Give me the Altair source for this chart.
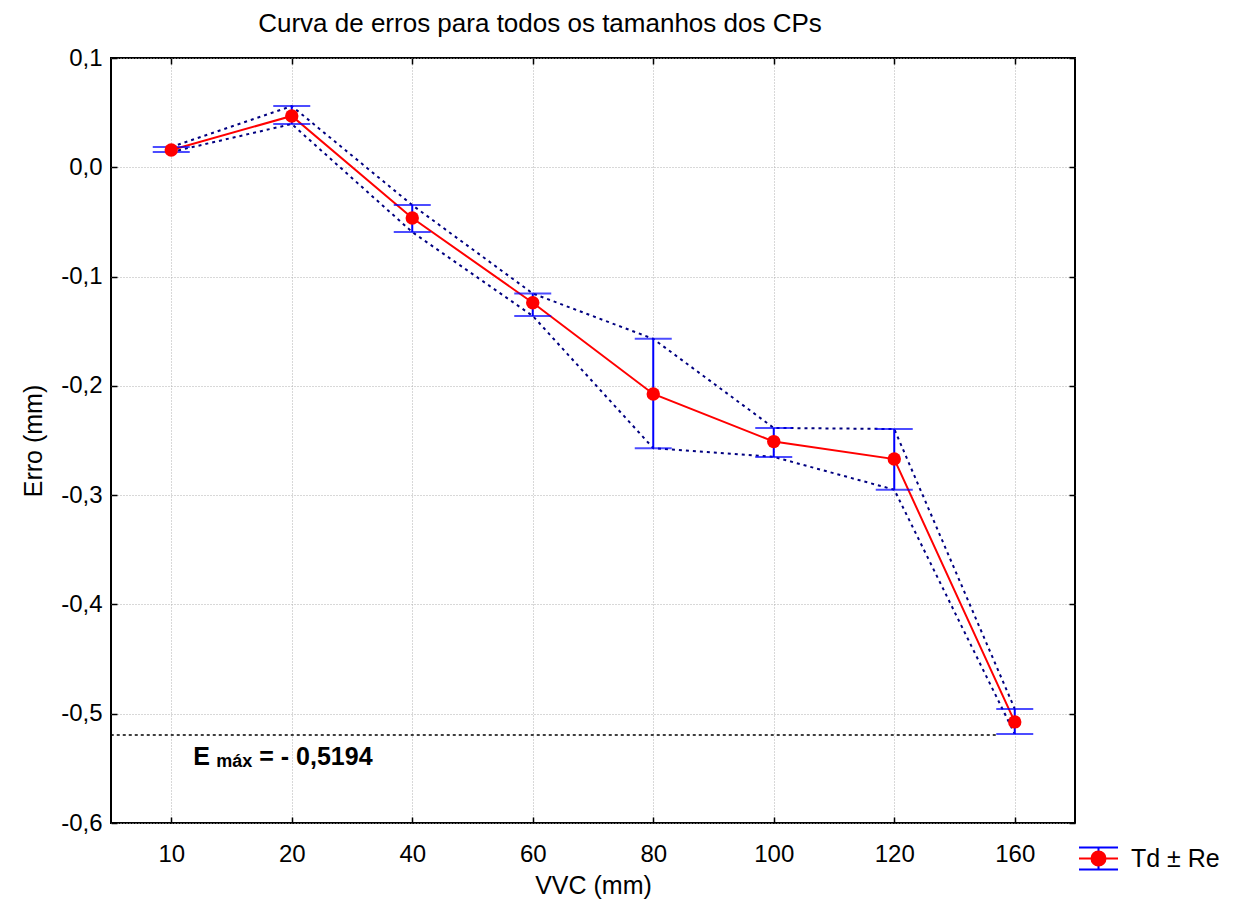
import altair as alt
import pandas as pd

vvc = ["10", "20", "40", "60", "80", "100", "120", "160"]
td = [0.0158, 0.047, -0.0464, -0.124, -0.2074, -0.251, -0.267, -0.5075]
upper = [0.0186, 0.056, -0.0346, -0.1155, -0.157, -0.2385, -0.2395, -0.4956]
lower = [0.0140, 0.0396, -0.0593, -0.136, -0.257, -0.265, -0.295, -0.5185]
emax = -0.5194
series_label = "Td ± Re"

df = pd.DataFrame({"vvc": vvc, "td": td, "upper": upper, "lower": lower,
                   "series": [series_label] * len(vvc), "cap": ["caps"] * len(vvc)})

FONT = "Liberation Sans"
xs = alt.Scale(type="point", domain=vvc, padding=0.5)
ys = alt.Scale(domain=[-0.6, 0.1], nice=False, zero=False)
yvals = [0.1, 0.0, -0.1, -0.2, -0.3, -0.4, -0.5, -0.6]

x_axis = alt.Axis(title="VVC (mm)", orient="bottom", offset=-6, tickSize=6, labelPadding=19,
                  titlePadding=7, grid=True, gridDash=[1, 2], gridColor="#b0b0b0",
                  domain=False, tickColor="black", tickWidth=1.5, labelAngle=0)
y_axis = alt.Axis(title="Erro (mm)", orient="left", offset=-6, tickSize=6, labelPadding=9,
                  titlePadding=14, grid=True, gridDash=[1, 2], gridColor="#b0b0b0",
                  domain=False, tickColor="black", tickWidth=1.5, values=yvals,
                  labelExpr="replace(replace(format(datum.value, '.1f'), '.', ','), '−', '-')")

base = alt.Chart(df)

line_td = base.mark_line(color="red", strokeWidth=2).encode(
    x=alt.X("vvc:O", scale=xs, axis=x_axis, sort=vvc),
    y=alt.Y("td:Q", scale=ys, axis=y_axis),
)

mirror = base.mark_point(opacity=0).encode(
    x=alt.X("vvc:O", scale=xs, sort=vvc,
            axis=alt.Axis(orient="top", offset=-6, tickSize=6, labels=False, title=None,
                          domain=False, grid=False, tickColor="black", tickWidth=1.5)),
    y=alt.Y("td:Q", scale=ys,
            axis=alt.Axis(orient="right", offset=-6, tickSize=6, labels=False, title=None,
                          domain=False, grid=False, tickColor="black", tickWidth=1.5,
                          values=yvals)),
)

up_line = base.mark_line(color="#000080", strokeWidth=2, strokeDash=[3, 4]).encode(
    x=alt.X("vvc:O", scale=xs, axis=None, sort=vvc),
    y=alt.Y("upper:Q", scale=ys, axis=None),
)
lo_line = base.mark_line(color="#000080", strokeWidth=2, strokeDash=[3, 4]).encode(
    x=alt.X("vvc:O", scale=xs, axis=None, sort=vvc),
    y=alt.Y("lower:Q", scale=ys, axis=None),
)

path_red = "M-1,0H1M0.36,0A0.36,0.36 0 1,1 -0.36,0A0.36,0.36 0 1,1 0.36,0Z"
path_blue = "M-1,-0.56H1M-1,0.56H1M0,-0.56V0.56"

LEG_X, LEG_Y = 967, 780

err_rule = base.mark_rule(color="blue", strokeWidth=2).encode(
    x=alt.X("vvc:O", scale=xs, axis=None, sort=vvc),
    y=alt.Y("lower:Q", scale=ys, axis=None),
    y2="upper:Q",
    strokeDash=alt.StrokeDash("cap:N", scale=alt.Scale(range=[[1, 0]]),
                              legend=alt.Legend(title=None, orient="none", legendX=LEG_X,
                                                legendY=LEG_Y,
                                                symbolType=path_blue, symbolSize=1521,
                                                symbolStrokeColor="blue", symbolStrokeWidth=2,
                                                symbolFillColor="transparent",
                                                labelFontSize=25,
                                                labelExpr="''", padding=0)),
)
cap_up = base.mark_tick(color="blue", size=37, thickness=2).encode(
    x=alt.X("vvc:O", scale=xs, axis=None, sort=vvc),
    y=alt.Y("upper:Q", scale=ys, axis=None),
)
cap_lo = base.mark_tick(color="blue", size=37, thickness=2).encode(
    x=alt.X("vvc:O", scale=xs, axis=None, sort=vvc),
    y=alt.Y("lower:Q", scale=ys, axis=None),
)

pts = base.mark_circle(size=180, opacity=1).encode(
    x=alt.X("vvc:O", scale=xs, axis=None, sort=vvc),
    y=alt.Y("td:Q", scale=ys, axis=None),
    color=alt.Color("series:N", scale=alt.Scale(range=["red"]),
                    legend=alt.Legend(title=None, orient="none", legendX=LEG_X, legendY=LEG_Y,
                                      symbolType=path_red, symbolSize=1521,
                                      symbolStrokeColor="red", symbolStrokeWidth=2,
                                      symbolFillColor="red", labelFontSize=25,
                                      labelFont=FONT, labelColor="black", labelOffset=12,
                                      padding=0)),
)

emax_df = pd.DataFrame({"x0": ["10"], "x1": ["160"], "y": [emax]})
emax_rule = alt.Chart(emax_df).mark_rule(color="black", strokeWidth=1.5, strokeDash=[3, 3],
                                         xOffset=-19).encode(
    x=alt.X("x1:O", scale=xs, axis=None),
    x2=alt.value(0),
    y=alt.Y("y:Q", scale=ys, axis=None),
)

txt_base = alt.Chart(emax_df)
t_e = txt_base.mark_text(text="E", font=FONT, fontSize=25, fontWeight="bold", align="left",
                         baseline="alphabetic", dx=22, dy=30, color="black").encode(
    x=alt.X("x0:O", scale=xs, axis=None), y=alt.Y("y:Q", scale=ys, axis=None))
t_sub = txt_base.mark_text(text="máx", font=FONT, fontSize=18, fontWeight="bold", align="left",
                           baseline="alphabetic", dx=45, dy=32, color="black").encode(
    x=alt.X("x0:O", scale=xs, axis=None), y=alt.Y("y:Q", scale=ys, axis=None))
t_val = txt_base.mark_text(text="= - 0,5194", font=FONT, fontSize=25, fontWeight="bold",
                           align="left", baseline="alphabetic", dx=88, dy=30,
                           color="black").encode(
    x=alt.X("x0:O", scale=xs, axis=None), y=alt.Y("y:Q", scale=ys, axis=None))

chart = alt.layer(
    line_td, mirror, up_line, lo_line, emax_rule, err_rule, cap_up, cap_lo,
    pts, t_e, t_sub, t_val,
).resolve_axis(x="independent", y="independent").resolve_legend(
    color="independent", strokeDash="independent"
).properties(
    width=964, height=765,
    title=alt.TitleParams("Curva de erros para todos os tamanhos dos CPs", font=FONT,
                          fontSize=26, fontWeight="normal", color="black", dx=-53, offset=9),
    autosize=alt.AutoSizeParams(type="none"),
    padding={"left": 103, "top": 50, "right": 152, "bottom": 80},
).configure_view(stroke="black", strokeWidth=2).configure_axis(
    labelFont=FONT, labelFontSize=24, labelColor="black", titleFont=FONT, titleFontSize=25,
    titleColor="black", titleFontWeight="normal"
).configure_legend(labelFont=FONT, labelFontSize=25, labelColor="black")

chart.save("out.html", embed_options={"renderer": "svg", "actions": False})
